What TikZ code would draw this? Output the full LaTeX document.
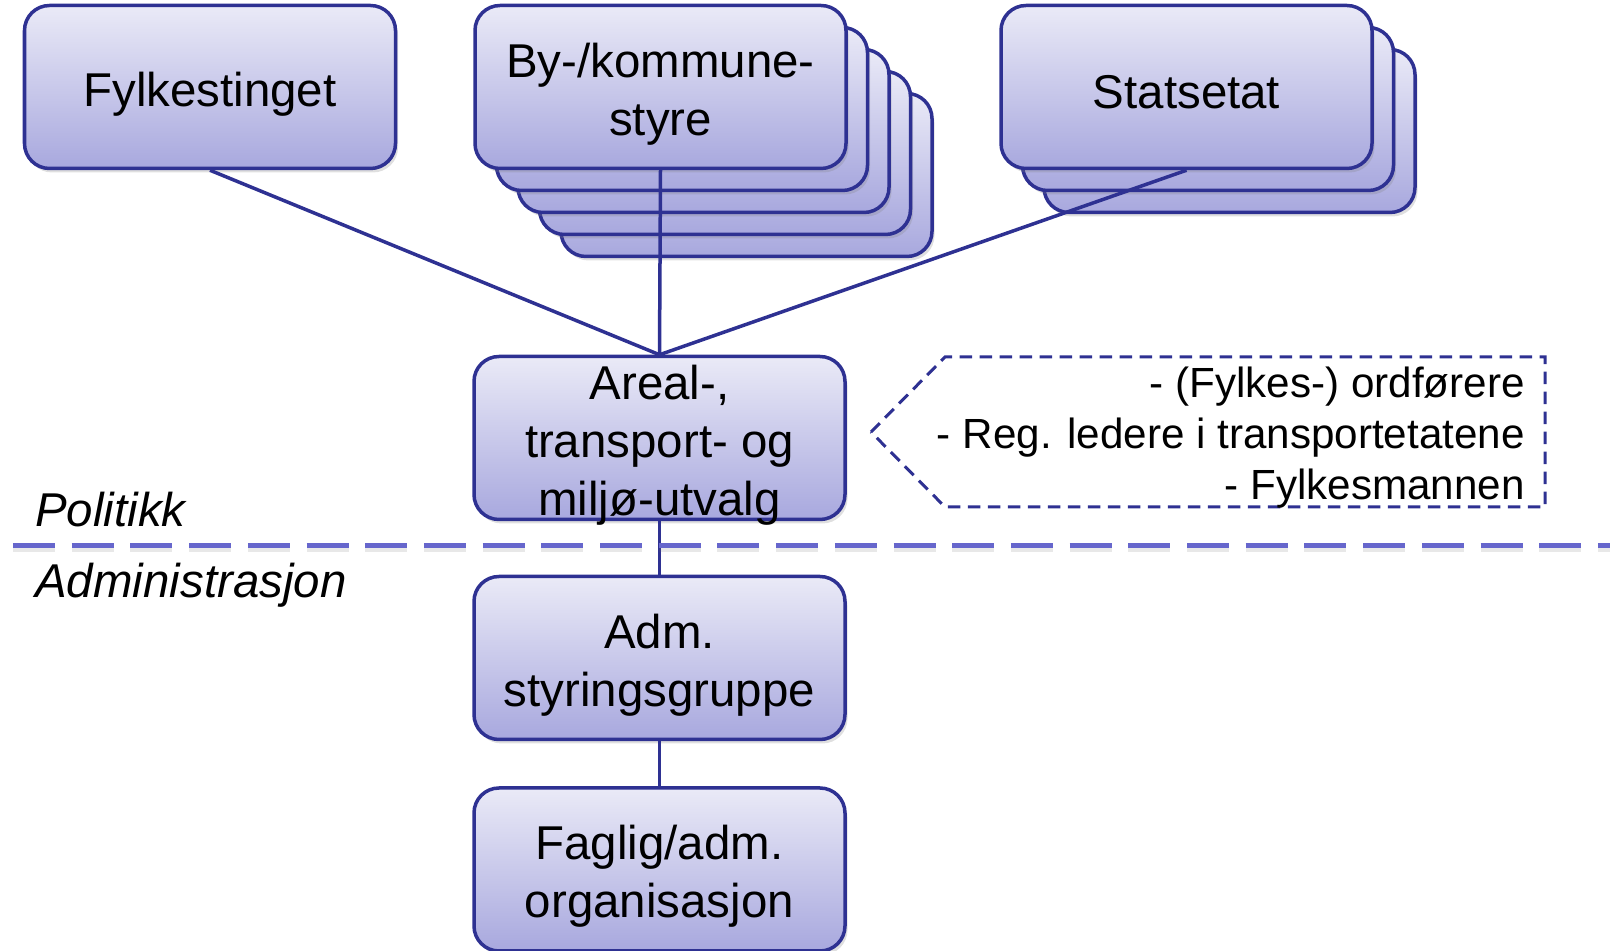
\documentclass[tikz,border=0pt]{standalone}
\usepackage{fontspec}
\setmainfont{Liberation Sans}
\usepackage{xcolor}
\usetikzlibrary{positioning, shadows}
\definecolor{unitline}{RGB}{46,49,146}
\definecolor{unittop}{RGB}{234,234,247}
\definecolor{unitbottom}{RGB}{168,168,222}
\definecolor{divider}{RGB}{102,102,204}

\tikzset{
  unit/.style={rectangle, rounded corners=0.5cm, draw=unitline, line width=0.07cm,
    top color=unittop, bottom color=unitbottom, minimum width=7.42cm, minimum height=3.26cm,
    inner sep=0pt, drop shadow={shadow xshift=0.05cm, shadow yshift=-0.08cm, opacity=0.25}},
  unittext/.style={align=center, inner sep=0pt, yshift=-0.14cm, font=\fontsize{27}{33}\selectfont},
  link/.style={draw=unitline, line width=0.07cm},
  split/.style={divider, line width=0.1cm, dash pattern=on 0.84cm off 0.334cm,
    preaction={draw=black!60, opacity=0.15, line width=0.1cm, dash pattern=on 0.84cm off 0.334cm,
      transform canvas={yshift=-0.07cm}}},
  side/.style={font=\fontsize{27}{33}\selectfont\itshape, inner sep=0pt},
  members/.style={font=\fontsize{24}{29}\selectfont, align=right, inner sep=0pt},
  membersline/.style={draw=unitline, line width=0.06cm, dash pattern=on 0.25cm off 0.15cm},
}

\begin{document}
\begin{tikzpicture}
        \useasboundingbox (0,0) rectangle (32.2,19.02);

        % top row
        \node[unit, label={[name=fylket, unittext]center:Fylkestinget}] (fylke) at (4.2,17.28) {};
        \foreach \i in {4,3,2,1}
            \node[unit] (by\i) at (13.21+0.43*\i, 17.28-0.44*\i) {};
        \node[unit, label={[name=byt, unittext]center:{By-/kommune-\\styre}}] (by) at (13.21,17.28) {};
        \foreach \i in {2,1}
            \node[unit] (stat\i) at (23.73+0.43*\i, 17.28-0.44*\i) {};
        \node[unit, label={[name=statt, unittext, text depth=0.212em]center:Statsetat}] (stat) at (23.73,17.28) {};

        % middle column
        \node[unit, label={[name=atmt, unittext]center:{Areal-,\\transport- og\\miljø-utvalg}}] (atm) at (13.19,10.26) {};
        \node[unit, below=1.07cm of atm, label={[name=admt, unittext]center:{Adm.\\styringsgruppe}}] (adm) {};
        \node[unit, below=0.9cm of adm, label={[name=fagt, unittext]center:{Faglig/adm.\\organisasjon}}] (fag) {};

        \draw[link] (fylke.south) -- (atm.north);
        \draw[link] (by.south) -- (atm.north);
        \draw[link] (stat.south) -- (atm.north);
        \draw[link] (atm.south) -- (adm.north);
        \draw[link] (adm.south) -- (fag.north);

        % members
        \draw[membersline] (17.42,10.38) -- (18.9,11.88) -- (30.9,11.88) -- (30.9,8.88) -- (18.9,8.88) -- cycle;
        \node[members, anchor=east] (mem) at (30.5,10.26) {- (Fylkes-) ordførere\\- Reg. ledere i transportetatene\\- Fylkesmannen};

        % politikk / administrasjon
        \draw[split] (0.26,8.1) -- (32.4,8.1);
        \node[side, anchor=base west] (pol) at (0.7,8.48) {Politikk};
        \node[side, anchor=base west] (adms) at (0.7,7.06) {Administrasjon};
    \end{tikzpicture}
\end{document}
